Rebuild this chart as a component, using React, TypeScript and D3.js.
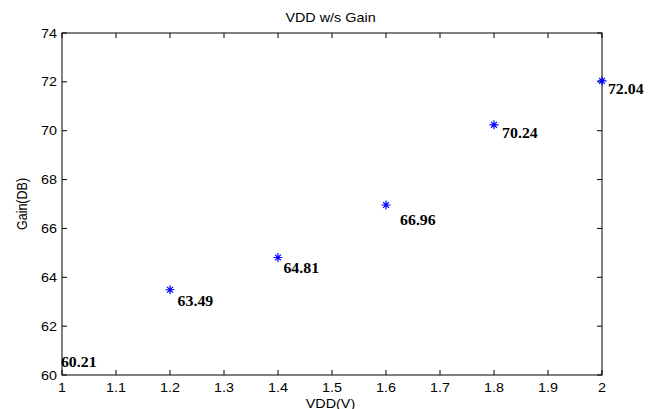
import React from "react";
import * as d3 from "d3";

// ---- data ----
const vdd = [1.0, 1.2, 1.4, 1.6, 1.8, 2.0];
const gain = [60.21, 63.49, 64.81, 66.96, 70.24, 72.04];
const markerShown = [false, true, true, true, true, true];
// annotation anchors, in data units (left/baseline of each value label)
const labelX = [0.998, 1.214, 1.41, 1.626, 1.815, 2.011];
const labelY = [60.34, 62.82, 64.16, 66.14, 69.69, 71.49];
const xTicks = [1, 1.1, 1.2, 1.3, 1.4, 1.5, 1.6, 1.7, 1.8, 1.9, 2];
const yTicks = [60, 62, 64, 66, 68, 70, 72, 74];
const title = "VDD w/s Gain";
const xLabel = "VDD(V)";
const yLabel = "Gain(DB)";

const W = 655;
const H = 409;
const M = { left: 62, right: 602, top: 33, bottom: 375 };
const SX = 1.15; // horizontal stretch of the original raster
const sans = "'Liberation Sans', Arial, sans-serif";
const serif = "'Liberation Serif', 'Times New Roman', serif";

export default function App() {
  const x = d3.scaleLinear().domain([1, 2]).range([M.left, M.right]);
  const y = d3.scaleLinear().domain([60, 74]).range([M.bottom, M.top]);
  const tick = 5;
  const star = (cx: number, cy: number, r: number) =>
    `M${cx - r},${cy}L${cx + r},${cy}M${cx},${cy - r}L${cx},${cy + r}` +
    `M${cx - r * 0.65},${cy - r * 0.65}L${cx + r * 0.65},${cy + r * 0.65}` +
    `M${cx - r * 0.65},${cy + r * 0.65}L${cx + r * 0.65},${cy - r * 0.65}`;

  return (
    <svg
      width={W}
      height={H}
      style={{ position: "absolute", left: 0, top: 0, background: "#fff" }}
    >
      <rect x={0} y={0} width={W} height={H} fill="#fff" />
      {/* ticks */}
      {xTicks.map((t, i) => (
        <g key={"xt" + i}>
          <line x1={x(t)} x2={x(t)} y1={M.bottom} y2={M.bottom - tick} stroke="#000" />
          <line x1={x(t)} x2={x(t)} y1={M.top} y2={M.top + tick} stroke="#000" />
          <text
            transform={`translate(${x(t)},391.5) scale(${SX},1)`}
            textAnchor="middle"
            fontFamily={sans}
            fontSize={12.5}
            fill="#000"
          >
            {d3.format("~g")(t)}
          </text>
        </g>
      ))}
      {yTicks.map((t, i) => (
        <g key={"yt" + i}>
          <line x1={M.left} x2={M.left + tick} y1={y(t)} y2={y(t)} stroke="#000" />
          <line x1={M.right} x2={M.right - tick} y1={y(t)} y2={y(t)} stroke="#000" />
          <text
            transform={`translate(57,${y(t) + 4.5}) scale(${SX},1)`}
            textAnchor="end"
            fontFamily={sans}
            fontSize={12.5}
            fill="#000"
          >
            {t}
          </text>
        </g>
      ))}
      {/* box */}
      <rect
        x={M.left}
        y={M.top}
        width={M.right - M.left}
        height={M.bottom - M.top}
        fill="none"
        stroke="#000"
        strokeWidth={1}
      />
      {/* markers */}
      {vdd.map((v, i) =>
        markerShown[i] ? (
          <path key={"m" + i} d={star(x(v), y(gain[i]), 4.5)} stroke="#0000ff" strokeWidth={1.2} fill="none" />
        ) : null
      )}
      {/* value labels */}
      {gain.map((g, i) => (
        <text
          key={"l" + i}
          transform={`translate(${x(labelX[i])},${y(labelY[i])}) scale(${SX},1)`}
          fontFamily={serif}
          fontWeight="bold"
          fontSize={13.8}
          fill="#000"
        >
          {g.toFixed(2)}
        </text>
      ))}
      {/* title and axis labels */}
      <text
        transform={`translate(330.5,21.7) scale(${SX},1)`}
        textAnchor="middle"
        fontFamily={sans}
        fontSize={12.5}
        fill="#000"
      >
        {title}
      </text>
      <text
        transform={`translate(330.5,407.5) scale(${SX},1)`}
        textAnchor="middle"
        fontFamily={sans}
        fontSize={12.5}
        fill="#000"
      >
        {xLabel}
      </text>
      <text
        transform={`translate(26.5,${(M.top + M.bottom) / 2}) scale(${SX},1) rotate(-90)`}
        textAnchor="middle"
        fontFamily={sans}
        fontSize={12.5}
        fill="#000"
      >
        {yLabel}
      </text>
    </svg>
  );
}
